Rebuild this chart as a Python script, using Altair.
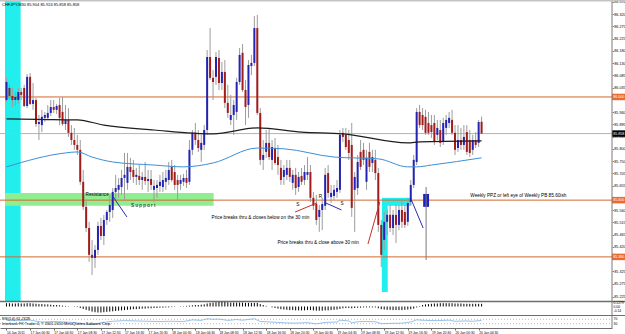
import altair as alt
import pandas as pd

# ---------------- values ----------------
chart_title = "CHFJPY,M30  85.904 85.924 85.858 85.858"

opens = [
    85.988, 86.035, 86.004, 85.988, 85.988, 86.019, 86.035, 85.965, 86.078, 85.973,
    85.988, 85.895, 85.891, 85.919, 85.919, 85.938, 85.961, 85.950, 85.969, 85.942,
    85.895, 85.911, 85.861, 85.833, 85.814, 85.795, 85.671, 85.574, 85.492, 85.388,
    85.376, 85.407, 85.500, 85.461, 85.523, 85.554, 85.562, 85.632, 85.640, 85.651,
    85.686, 85.667, 85.729, 85.717, 85.690, 85.694, 85.678, 85.690, 85.674, 85.682,
    85.640, 85.647, 85.655, 85.651, 85.671, 85.678, 85.729, 85.709, 85.678, 85.663,
    85.671, 85.686, 85.671, 85.795, 85.861, 85.833, 85.795, 85.814, 85.872, 86.155,
    86.074, 86.078, 86.151, 86.054, 86.097, 85.977, 85.911, 85.930, 85.942, 86.058,
    86.171, 86.027, 85.969, 86.120, 86.132, 86.267, 85.938, 85.756, 85.787, 85.822,
    85.756, 85.802, 85.767, 85.725, 85.690, 85.698, 85.725, 85.667, 85.698, 85.651,
    85.694, 85.678, 85.698, 85.709, 85.609, 85.585, 85.535, 85.562, 85.578, 85.705,
    85.612, 85.616, 85.632, 85.640, 85.861, 85.853, 85.833, 85.814, 85.640, 85.647,
    85.787, 85.795, 85.671, 85.787, 85.744, 85.756, 85.705, 85.504, 85.446, 85.516,
    85.543, 85.492, 85.543, 85.504, 85.562, 85.554, 85.516, 85.593, 85.659, 85.748,
    85.942, 85.930, 85.923, 85.899, 85.891, 85.899, 85.853, 85.872, 85.826, 85.880,
    85.899, 85.911, 85.861, 85.802, 85.833, 85.814, 85.864, 85.833, 85.795, 85.833,
    85.822, 85.904,
]
highs = [
    86.074, 86.050, 86.035, 86.019, 86.035, 86.035, 86.047, 86.089, 86.093, 86.054,
    85.996, 85.930, 85.950, 85.942, 85.969, 85.988, 85.988, 85.973, 85.996, 86.000,
    85.969, 85.957, 85.891, 85.880, 85.853, 85.833, 85.717, 85.601, 85.516, 85.446,
    85.426, 85.516, 85.531, 85.543, 85.562, 85.620, 85.647, 85.698, 85.686, 85.717,
    85.783, 85.783, 85.764, 85.756, 85.725, 85.736, 85.709, 85.748, 85.717, 85.717,
    85.678, 85.678, 85.698, 85.709, 85.717, 85.748, 85.756, 85.736, 85.698, 85.698,
    85.702, 85.717, 85.833, 85.872, 85.899, 85.872, 85.853, 85.891, 86.182, 86.267,
    86.105, 86.174, 86.182, 86.136, 86.143, 86.047, 86.008, 85.988, 86.074, 86.190,
    86.205, 86.066, 86.143, 86.163, 86.314, 86.318, 85.957, 85.833, 85.872, 85.880,
    85.833, 85.841, 85.814, 85.756, 85.736, 85.756, 85.756, 85.717, 85.725, 85.709,
    85.725, 85.736, 85.767, 85.736, 85.632, 85.620, 85.581, 85.609, 85.725, 85.736,
    85.659, 85.659, 85.678, 85.872, 85.880, 85.880, 85.872, 85.899, 85.709, 85.775,
    85.833, 85.822, 85.795, 85.822, 85.795, 85.795, 85.725, 85.523, 85.554, 85.562,
    85.581, 85.562, 85.581, 85.581, 85.601, 85.581, 85.609, 85.678, 85.775, 85.957,
    85.969, 85.957, 85.950, 85.942, 85.930, 85.930, 85.911, 85.911, 85.919, 85.930,
    85.942, 85.950, 85.891, 85.891, 85.880, 85.891, 85.891, 85.872, 85.853, 85.864,
    85.911, 85.924,
]
lows = [
    85.981, 85.988, 85.961, 85.965, 85.973, 85.988, 85.961, 85.957, 85.969, 85.950,
    85.884, 85.833, 85.864, 85.903, 85.911, 85.926, 85.938, 85.934, 85.891, 85.888,
    85.872, 85.845, 85.814, 85.795, 85.775, 85.659, 85.562, 85.477, 85.361, 85.310,
    85.337, 85.388, 85.446, 85.426, 85.504, 85.516, 85.531, 85.601, 85.609, 85.620,
    85.601, 85.640, 85.678, 85.667, 85.659, 85.659, 85.640, 85.659, 85.632, 85.640,
    85.593, 85.609, 85.632, 85.632, 85.640, 85.659, 85.671, 85.640, 85.601, 85.640,
    85.655, 85.647, 85.659, 85.775, 85.814, 85.787, 85.748, 85.795, 85.853, 86.066,
    85.988, 86.047, 86.027, 86.027, 85.957, 85.919, 85.891, 85.853, 85.911, 86.047,
    86.019, 85.891, 85.919, 86.085, 86.120, 85.930, 85.736, 85.717, 85.764, 85.756,
    85.717, 85.736, 85.698, 85.659, 85.659, 85.678, 85.671, 85.640, 85.620, 85.632,
    85.659, 85.659, 85.678, 85.593, 85.562, 85.504, 85.477, 85.484, 85.562, 85.609,
    85.589, 85.601, 85.609, 85.628, 85.826, 85.795, 85.756, 85.535, 85.477, 85.620,
    85.717, 85.736, 85.640, 85.709, 85.709, 85.678, 85.477, 85.341, 85.407, 85.465,
    85.477, 85.465, 85.434, 85.484, 85.492, 85.492, 85.500, 85.581, 85.647, 85.736,
    85.880, 85.872, 85.853, 85.853, 85.841, 85.814, 85.833, 85.806, 85.814, 85.853,
    85.880, 85.853, 85.775, 85.787, 85.795, 85.795, 85.775, 85.767, 85.775, 85.802,
    85.806, 85.858,
]
closes = [
    86.058, 86.004, 85.988, 86.000, 86.019, 86.008, 85.965, 86.078, 85.973, 85.988,
    85.895, 85.903, 85.923, 85.930, 85.938, 85.961, 85.950, 85.965, 85.919, 85.895,
    85.911, 85.861, 85.833, 85.814, 85.795, 85.671, 85.574, 85.492, 85.388, 85.376,
    85.407, 85.500, 85.461, 85.523, 85.554, 85.581, 85.632, 85.647, 85.659, 85.686,
    85.698, 85.729, 85.709, 85.690, 85.698, 85.678, 85.690, 85.674, 85.682, 85.659,
    85.655, 85.659, 85.671, 85.678, 85.686, 85.717, 85.678, 85.659, 85.659, 85.678,
    85.686, 85.667, 85.795, 85.861, 85.833, 85.802, 85.822, 85.872, 86.155, 86.074,
    86.058, 86.155, 86.054, 86.097, 85.977, 85.938, 85.930, 85.969, 86.058, 86.163,
    86.027, 85.961, 86.124, 86.132, 86.267, 85.938, 85.756, 85.775, 85.822, 85.767,
    85.806, 85.744, 85.736, 85.678, 85.717, 85.725, 85.690, 85.698, 85.647, 85.690,
    85.671, 85.709, 85.709, 85.609, 85.578, 85.523, 85.562, 85.585, 85.698, 85.628,
    85.628, 85.640, 85.647, 85.853, 85.845, 85.806, 85.783, 85.570, 85.690, 85.748,
    85.729, 85.756, 85.764, 85.729, 85.767, 85.705, 85.504, 85.388, 85.516, 85.543,
    85.492, 85.543, 85.504, 85.562, 85.516, 85.504, 85.589, 85.659, 85.756, 85.942,
    85.891, 85.891, 85.861, 85.861, 85.864, 85.826, 85.880, 85.822, 85.899, 85.911,
    85.919, 85.861, 85.795, 85.833, 85.814, 85.845, 85.787, 85.783, 85.833, 85.814,
    85.903, 85.858,
]

# time axis labels (one every 8 bars of 30 min)
date_labels = ["14 Jan 2011", "17 Jan 00:30", "17 Jan 04:30", "17 Jan 08:30", "17 Jan 12:30",
               "17 Jan 16:30", "17 Jan 20:30", "18 Jan 00:30", "18 Jan 04:30", "18 Jan 08:30",
               "18 Jan 12:30", "18 Jan 16:30", "18 Jan 20:30", "19 Jan 00:30", "19 Jan 04:30",
               "19 Jan 08:30", "19 Jan 12:30", "19 Jan 16:30", "19 Jan 20:30", "20 Jan 00:30",
               "20 Jan 04:30"]
date_ticks = [0, 8, 16, 24, 32, 40, 48, 56, 64, 72, 80, 88, 96, 104, 112, 120, 128, 136, 144, 152, 160]

price_ticks = [86.370, 86.320, 86.275, 86.225, 86.180, 86.130, 86.085, 86.035, 85.940, 85.895,
               85.845, 85.800, 85.750, 85.705, 85.655, 85.560, 85.515, 85.465, 85.420, 85.325,
               85.275, 85.225]
level_prices = [86.000, 85.600, 85.380]
last_price = [85.858]
tag_levels = [86.000, 85.600, 85.380]
tag_level_labels = ["86.000", "85.600", "85.380"]
tag_last = [85.858]
tag_last_labels = ["85.858"]

# moving averages (bar index, price)
ma_slow_idx = [0, 10, 24, 33, 50, 70, 85, 100, 114, 136, 140, 161]
ma_slow_val = [85.915, 85.913, 85.911, 85.891, 85.872, 85.857, 85.880, 85.864, 85.857, 85.822, 85.826, 85.830]
ma_fast_idx = [0, 20, 24, 29, 36, 50, 60, 70, 85, 94, 111, 126, 136, 139, 144, 161]
ma_fast_val = [85.729, 85.783, 85.787, 85.767, 85.748, 85.736, 85.729, 85.744, 85.802, 85.799,
               85.767, 85.760, 85.729, 85.729, 85.736, 85.764]

# highlighted zones (bar index range, price range)
cyan_start = [-0.5, 127.2, 127.2]
cyan_end = [4.8, 137.2, 129.2]
cyan_low = [85.209, 85.578, 85.244]
cyan_high = [86.372, 85.609, 85.581]
green_start = [-0.5]
green_end = [70.2]
green_low = [85.578]
green_high = [85.628]

box_start = [141.2]
box_end = [143.2]
box_low = [85.574]
box_high = [85.624]

# drawn trend lines
blue_x1 = [36.2, 108.2, 137.2]
blue_y1 = [85.612, 85.589, 85.601]
blue_x2 = [40.8, 113.5, 141.2]
blue_y2 = [85.535, 85.562, 85.492]
red_x1 = [97.8, 122.5]
red_y1 = [85.554, 85.430]
red_x2 = [105.2, 126.5]
red_y2 = [85.589, 85.593]
grey_x = [142.2]
grey_lo = [85.368]
grey_hi = [85.651]

ann_x = [26.8, 42.2, 98.2, 105.8, 113.2, 69.5, 91.8, 157.2]
ann_y = [85.620, 85.578, 85.581, 85.612, 85.585, 85.531, 85.434, 85.616]
ann_text = ["Resistance", "S u p p o r t", "S", "R", "S",
            "Price breaks thru & closes below on the 30 min",
            "Price breaks thru & close above  30 min",
            "Weekly PPZ or left eye of Weekly PB 85.60ish"]

# oscillator histogram (one value per bar)
osc_vals = [
    0.11, 0.11, 0.10, 0.10, 0.11, 0.10, 0.10, 0.11, 0.11, 0.10, 0.09, 0.08, 0.08, 0.07, 0.07, 0.06,
    0.05, 0.05, 0.04, 0.03, 0.02, 0.01, 0.00, -0.01, -0.02,
    -0.05, -0.08, -0.11, -0.14, -0.17, -0.19, -0.20, -0.20, -0.19, -0.18,
    -0.17, -0.16, -0.15, -0.14, -0.13, -0.12, -0.11, -0.10, -0.09, -0.09, -0.08, -0.07, -0.07,
    -0.06, -0.06, -0.05, -0.05, -0.04, -0.04, -0.03, -0.03, -0.02,
    -0.01, 0.00, 0.01, 0.01, 0.02, 0.03, 0.04, 0.05, 0.05, 0.06, 0.07,
    0.10, 0.12, 0.13, 0.14, 0.15, 0.15, 0.15, 0.14, 0.13, 0.13, 0.13, 0.13, 0.13, 0.12, 0.12,
    0.12, 0.12, 0.12,
    0.08, 0.05, 0.02, 0.00,
    -0.03, -0.05, -0.07, -0.09, -0.10, -0.11, -0.12, -0.12, -0.13, -0.13, -0.13, -0.13, -0.12,
    -0.12, -0.13, -0.14, -0.14, -0.14, -0.13, -0.13, -0.12, -0.11, -0.10, -0.08, -0.06,
    -0.05, -0.05, -0.06, -0.05, -0.04, -0.04, -0.03, -0.03, -0.03, -0.03, -0.03,
    -0.06, -0.09, -0.10, -0.11, -0.11, -0.12, -0.12, -0.12, -0.12, -0.11, -0.10, -0.09, -0.07,
    -0.03, 0.02, 0.05, 0.07, 0.08, 0.09, 0.10, 0.10, 0.11, 0.11, 0.11, 0.11, 0.11, 0.10, 0.10,
    0.10, 0.09, 0.09, 0.09, 0.09, 0.09, 0.09, 0.09,
]
osc_label_vals = [0.1279, 0.0, -0.14]
osc_label_text = ["0.1279", "0.00", "-0.14"]

# RSI line (bar index, value)
rsi_idx = [0, 4, 8, 12, 16, 20, 24, 27, 29, 32, 36, 40, 44, 48, 52, 56, 60, 63, 66, 68, 70, 72,
           75, 78, 80, 84, 86, 90, 94, 98, 102, 105, 108, 112, 113, 116, 117, 119, 122, 125, 127,
           130, 134, 137, 139, 142, 146, 150, 152, 156, 158, 161]
rsi_val = [60, 58, 62, 45, 50, 45, 38, 25, 22, 38, 52, 58, 55, 52, 50, 52, 50, 65, 60, 75, 70, 72,
           60, 68, 62, 75, 50, 45, 38, 35, 40, 28, 42, 45, 62, 55, 38, 48, 50, 48, 30,
           33, 35, 45, 65, 60, 58, 62, 52, 55, 52, 60]
rsi_levels = [70, 30]
rsi_caption = "RSI(14) 61.2328"
copyright_text = "Interbank FX Trader 4, \u00a9 2001-2010 MetaQuotes Software Corp."

# ---------------- styling ----------------
W, H = 612, 328
FONT = "Liberation Sans"
BLUE, RED, WICK = "#2323b4", "#a21c1c", "#9c9c9c"
ORANGE = "#d2682e"
CYAN = "#22eeee"

candles = pd.DataFrame({"idx": range(len(opens)), "open": opens, "high": highs,
                        "low": lows, "close": closes})
up = candles[candles["close"] >= candles["open"]]
down = candles[candles["close"] < candles["open"]]

XS = alt.Scale(domain=[-0.5, 203.5], nice=False, zero=False)
label_expr = "[" + ",".join("'%s'" % s for s in date_labels) + "][round(datum.value / 8)]"
XA = alt.Axis(values=date_ticks, labelExpr=label_expr, title=None, grid=False,
              labelAlign="left", labelBaseline="top", labelPadding=0.5, tickSize=2,
              labelFontSize=3.3, labelFont=FONT, labelColor="#000", labelFlush=False,
              labelOverlap=False, domainColor="#6e6e6e", tickColor="#6e6e6e")
PS = alt.Scale(domain=[85.209, 86.372], range=[301, 1], nice=False, zero=False)
PA = alt.Axis(values=price_ticks, format=".3f", orient="right", title=None, grid=False,
              domain=False, tickSize=1.5, tickColor="#808080", labelPadding=0.3,
              labelFontSize=3.7, labelFont=FONT, labelColor="#000",
              labelOverlap=False, labelFlush=False)


def X(f):
    return alt.X(f + ":Q", scale=XS, axis=XA)


def Y(f):
    return alt.Y(f + ":Q", scale=PS, axis=PA)


one = pd.DataFrame({"k": [0]})


def rects(x1, x2, lo, hi, color):
    df = pd.DataFrame({"x1": x1, "x2": x2, "lo": lo, "hi": hi})
    return alt.Chart(df).mark_rect(color=color).encode(
        x=X("x1"), x2="x2:Q", y=Y("lo"), y2="hi:Q")


def segments(x1, y1, x2, y2, color):
    df = pd.DataFrame({"x1": x1, "y1": y1, "x2": x2, "y2": y2})
    return alt.Chart(df).mark_rule(color=color, strokeWidth=1).encode(
        x=X("x1"), y=Y("y1"), x2="x2:Q", y2="y2:Q")


cyan_layer = rects(cyan_start, cyan_end, cyan_low, cyan_high, CYAN)
green_layer = rects(green_start, green_end, green_low, green_high, "#90ee90")

lvl_layer = alt.Chart(pd.DataFrame({"v": level_prices})).mark_rule(
    color=ORANGE, strokeWidth=1).encode(y=Y("v"), x=alt.value(0), x2=alt.value(W))
last_layer = alt.Chart(pd.DataFrame({"v": last_price})).mark_rule(
    color="#b4b4b4", strokeWidth=1).encode(y=Y("v"), x=alt.value(0), x2=alt.value(W))

wick_layer = alt.Chart(candles).mark_rule(color=WICK, strokeWidth=1).encode(
    x=X("idx"), y=Y("low"), y2="high:Q")
up_layer = alt.Chart(up).mark_bar(size=2, color=BLUE).encode(
    x=X("idx"), y=Y("open"), y2="close:Q")
down_layer = alt.Chart(down).mark_bar(size=2, color=RED).encode(
    x=X("idx"), y=Y("open"), y2="close:Q")

slow_layer = alt.Chart(pd.DataFrame({"idx": ma_slow_idx, "v": ma_slow_val})).mark_line(
    color="#1e1e1e", strokeWidth=1.2, interpolate="monotone").encode(x=X("idx"), y=Y("v"))
fast_layer = alt.Chart(pd.DataFrame({"idx": ma_fast_idx, "v": ma_fast_val})).mark_line(
    color="#3d8fd4", strokeWidth=1, interpolate="monotone").encode(x=X("idx"), y=Y("v"))

box_layer = rects(box_start, box_end, box_low, box_high, "#2020c0")
blue_seg = segments(blue_x1, blue_y1, blue_x2, blue_y2, "#2b2bb0")
red_seg = segments(red_x1, red_y1, red_x2, red_y2, "#c8302a")
grey_seg = alt.Chart(pd.DataFrame({"x": grey_x, "lo": grey_lo, "hi": grey_hi})).mark_rule(
    color="#7a7a7a", strokeWidth=1).encode(x=X("x"), y=Y("lo"), y2="hi:Q")

ann_layer = alt.Chart(pd.DataFrame({"x": ann_x, "y": ann_y, "t": ann_text})).mark_text(
    align="left", baseline="middle", fontSize=4.7, font=FONT, color="#000").encode(
    x=X("x"), y=Y("y"), text="t:N")

TAG_SHAPE = "M-1,-0.5L1,-0.5L1,0.5L-1,0.5Z"


def tag(vals, labels, bg, fg):
    df = pd.DataFrame({"v": vals, "t": labels})
    back = alt.Chart(df).mark_point(shape=TAG_SHAPE, size=169, filled=True, opacity=1,
                                    color=bg, strokeWidth=0).encode(
        x=alt.value(W + 6.5), y=Y("v"))
    txt = alt.Chart(df).mark_text(align="left", baseline="middle", fontSize=3.6,
                                  font=FONT, color=fg).encode(
        x=alt.value(W + 1.2), y=Y("v"), text="t:N")
    return [back, txt]


frame_right = alt.Chart(one).mark_rule(color="#7a7a7a", strokeWidth=1).encode(
    x=alt.value(W), y=alt.value(0), y2=alt.value(H))
frame_top = alt.Chart(one).mark_rule(color="#c4c4c4", strokeWidth=2).encode(
    x=alt.value(0), x2=alt.value(W + 13), y=alt.value(0.5))
sep1 = alt.Chart(one).mark_rule(color="#6e6e6e", strokeWidth=1.5).encode(
    x=alt.value(0), x2=alt.value(W + 13), y=alt.value(301.5))
sep2 = alt.Chart(one).mark_rule(color="#6e6e6e", strokeWidth=1.2).encode(
    x=alt.value(0), x2=alt.value(W + 13), y=alt.value(315.5))
title_layer = alt.Chart(one).mark_text(align="left", baseline="middle", fontSize=4,
                                       font=FONT, color="#000").encode(
    x=alt.value(2), y=alt.value(5), text=alt.value(chart_title))

main = alt.layer(cyan_layer, green_layer, lvl_layer, last_layer, wick_layer, up_layer,
                 down_layer, slow_layer, fast_layer, box_layer, grey_seg, blue_seg, red_seg,
                 ann_layer,
                 *tag(tag_levels, tag_level_labels, "#ea6a30", "white"),
                 *tag(tag_last, tag_last_labels, "#000000", "white"),
                 frame_right, frame_top, sep1, sep2, title_layer)

# ---- oscillator histogram panel ----
OS = alt.Scale(domain=[-0.25, 0.15], range=[314, 302], nice=False, zero=False)
osc = pd.DataFrame({"idx": range(len(osc_vals)), "v": osc_vals})
osc["base"] = 0.0
osc_layer = alt.Chart(osc).mark_rule(color="#000", strokeWidth=1).encode(
    x=X("idx"), y=alt.Y("v:Q", scale=OS, axis=None), y2="base:Q")
osc_lab = alt.Chart(pd.DataFrame({"v": osc_label_vals, "t": osc_label_text})).mark_text(
    align="left", baseline="middle", fontSize=3.4, font=FONT, color="#000").encode(
    x=alt.value(W + 1.5), y=alt.Y("v:Q", scale=OS, axis=None), text="t:N")
ind1 = alt.layer(osc_layer, osc_lab)

# ---- RSI panel ----
RS = alt.Scale(domain=[0, 100], range=[327, 316], nice=False, zero=False)
rsi_lvl = alt.Chart(pd.DataFrame({"v": rsi_levels})).mark_rule(
    color="#a8a8a8", strokeWidth=0.8, strokeDash=[1, 2]).encode(
    y=alt.Y("v:Q", scale=RS, axis=None), x=alt.value(0), x2=alt.value(W))
rsi_line = alt.Chart(pd.DataFrame({"idx": rsi_idx, "v": rsi_val})).mark_line(
    color="#7fb0e0", strokeWidth=0.8).encode(x=X("idx"), y=alt.Y("v:Q", scale=RS, axis=None))
rsi_lab = alt.Chart(pd.DataFrame({"v": rsi_levels, "t": [str(v) for v in rsi_levels]})).mark_text(
    align="left", baseline="middle", fontSize=3.4, font=FONT, color="#000").encode(
    x=alt.value(W + 1.5), y=alt.Y("v:Q", scale=RS, axis=None), text="t:N")
rsi_cap = alt.Chart(one).mark_text(align="left", baseline="middle", fontSize=3.8,
                                   font=FONT, color="#000").encode(
    x=alt.value(2), y=alt.value(318.5), text=alt.value(rsi_caption))
copy_cap = alt.Chart(one).mark_text(align="left", baseline="middle", fontSize=3.8,
                                    font=FONT, color="#000").encode(
    x=alt.value(2), y=alt.value(324), text=alt.value(copyright_text))
ind2 = alt.layer(rsi_lvl, rsi_line, rsi_lab, rsi_cap, copy_cap)

chart = alt.layer(main, ind1, ind2).resolve_scale(y="independent").properties(
    width=W, height=H,
    autosize=alt.AutoSizeParams(type="none"),
    padding={"left": 0, "top": 0, "right": 13, "bottom": 6},
    background="white",
).configure_view(stroke=None)

chart.save("out.html", embed_options={"renderer": "svg", "actions": False})
